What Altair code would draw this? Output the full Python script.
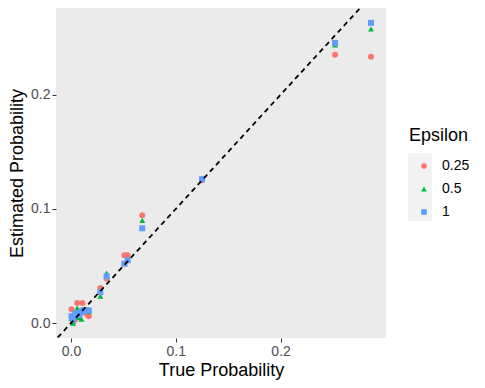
import altair as alt
import pandas as pd

# ---- data ----
epsilons = ["0.25", "0.5", "1"]
true_prob = [0.0005, 0.002, 0.004, 0.006, 0.008, 0.010, 0.011, 0.015, 0.017,
             0.028, 0.034, 0.051, 0.054, 0.068, 0.125, 0.252, 0.2863]
est_eps_025 = [0.012, 0.001, 0.003, 0.0175, 0.008, 0.009, 0.0175, 0.008, 0.006,
               0.0306, 0.039, 0.0594, 0.0594, 0.0945, 0.125, 0.235, 0.2332]
est_eps_05 = [0.004, 0.000, 0.006, 0.013, 0.005, 0.0035, 0.012, 0.012, 0.010,
              0.0236, 0.0437, 0.052, 0.055, 0.090, 0.127, 0.2437, 0.2576]
est_eps_1 = [0.006, 0.003, 0.008, 0.009, 0.007, 0.010, 0.011, 0.011, 0.011,
             0.0271, 0.041, 0.052, 0.055, 0.083, 0.126, 0.2454, 0.263]
tick_values = [0.0, 0.1, 0.2]
ref_x = [-1.0, 1.0]  # identity line y = x

colors = ["#F8766D", "#00BA38", "#619CFF"]
shapes = ["circle", "triangle-up", "square"]

rows = []
for eps, est in zip(epsilons, [est_eps_025, est_eps_05, est_eps_1]):
    for t, e in zip(true_prob, est):
        rows.append({"True": t, "Est": e, "Epsilon": eps})
df = pd.DataFrame(rows)
line_df = pd.DataFrame({"x": ref_x, "y": ref_x})

x_scale = alt.Scale(domain=[-0.0143, 0.3006], nice=False, zero=False)
y_scale = alt.Scale(domain=[-0.0131, 0.2760], nice=False, zero=False)

FONT = "Liberation Sans"

legend_def = alt.Legend(
    title="Epsilon", orient="none", legendX=353, legendY=119,
    titleFontSize=18, titleFont=FONT, titleFontWeight="normal", titleColor="black",
    labelFontSize=14, labelFont=FONT, labelColor="black",
    padding=0, rowPadding=9, titlePadding=14, symbolOffset=8, labelOffset=11,
    symbolSize=32,
)

key_bg = alt.Chart(pd.DataFrame({"k": [0]})).mark_rect(
    color="#F2F2F2", clip=False
).encode(
    x=alt.value(352), x2=alt.value(376), y=alt.value(145), y2=alt.value(213)
)

points = alt.Chart(df).mark_point(filled=True, size=36, opacity=1).encode(
    x=alt.X("True:Q", scale=x_scale,
            axis=alt.Axis(values=tick_values, format=".1f", title="True Probability")),
    y=alt.Y("Est:Q", scale=y_scale,
            axis=alt.Axis(values=tick_values, format=".1f", title="Estimated Probability")),
    color=alt.Color("Epsilon:N", scale=alt.Scale(domain=epsilons, range=colors),
                    legend=legend_def),
    shape=alt.Shape("Epsilon:N", scale=alt.Scale(domain=epsilons, range=shapes),
                    legend=legend_def),
)

ref_line = alt.Chart(line_df).mark_line(
    color="black", strokeDash=[5, 4], strokeWidth=1.8, clip=True
).encode(
    x=alt.X("x:Q", scale=x_scale),
    y=alt.Y("y:Q", scale=y_scale),
)

chart = alt.layer(key_bg, points, ref_line).properties(
    width=330, height=330,
    autosize=alt.AutoSizeParams(type="none"),
    padding={"left": 48, "top": 0, "right": 90, "bottom": 50},
).configure_view(
    fill="#EBEBEB", stroke=None
).configure_axis(
    grid=False, domain=False,
    labelFont=FONT, labelFontSize=14, labelColor="#4D4D4D",
    tickColor="#333333", tickSize=4, tickWidth=1, labelPadding=2,
    titleFont=FONT, titleFontSize=18, titleFontWeight="normal", titleColor="black",
).configure_axisX(titlePadding=3).configure_axisY(titlePadding=4)

chart.save("out.html", embed_options={"renderer": "svg", "actions": False})
